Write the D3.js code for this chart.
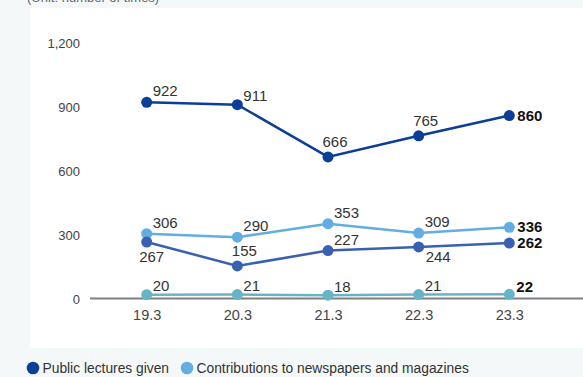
<!DOCTYPE html>
<html><head><meta charset="utf-8">
<script src="https://cdn.jsdelivr.net/npm/d3@7"></script>
<style>
html,body{margin:0;padding:0;background:#f4f8f9;}
svg{display:block;font-family:"Liberation Sans",Arial,Helvetica,sans-serif;}
</style></head>
<body><svg id="c" width="583" height="377"></svg>
<script>
const categories = ["19.3","20.3","21.3","22.3","23.3"];
const yTicks = [0,300,600,900,1200];
const unitLabel = "(Unit: number of times)";
const seriesNames = ["Public lectures given","Contributions to newspapers and magazines","Series 3","Series 4"];
const lecturesValues = [922,911,666,765,860];
const contributionsValues = [306,290,353,309,336];
const series3Values = [267,155,227,244,262];
const series4Values = [20,21,18,21,22];
const legendNames = ["Public lectures given","Contributions to newspapers and magazines"];

const colors = ["#0a3e98","#62ade2","#3a60b2","#68b4c7"];
// label placement codes per series (layout only)
const placements = [
  ["ur","ur3","u","u","r"],
  ["ur","ur","ur","ur","r"],
  ["d","u","ur","dr","r"],
  ["ur3","ur3","ur3","ur3","urb"]
];

const series = [lecturesValues, contributionsValues, series3Values, series4Values]
  .map((v,i)=>({name:seriesNames[i], values:v, color:colors[i], place:placements[i]}));

const svg = d3.select("#c");
const W = 583, H = 377;

// white panel
svg.append("rect").attr("x",30).attr("y",8).attr("width",W-30).attr("height",340).attr("fill","#fff");

// unit label (mostly cropped at top)
svg.append("text").attr("x",27).attr("y",1.5).attr("font-size",13).attr("fill","#666").text(unitLabel);

const x = d3.scalePoint().domain(categories).range([146.7,509.3]);
const y = d3.scaleLinear().domain([0,1200]).range([299,43]);

// y axis labels
const yAxis = d3.axisLeft(y).tickValues(yTicks).tickSize(0).tickPadding(0).tickFormat(d3.format(","));
const yg = svg.append("g").attr("transform","translate(80,0)").call(yAxis);
yg.select(".domain").remove();
yg.selectAll("text").attr("font-size",13).attr("fill","#444").attr("font-family","inherit");

// x axis
const xAxis = d3.axisBottom(x).tickSize(0).tickPadding(11);
const xg = svg.append("g").attr("transform",`translate(0,${y(0)})`).call(xAxis);
xg.select(".domain").remove();
xg.selectAll("text").attr("font-size",14.5).attr("fill","#444").attr("font-family","inherit");
svg.append("line").attr("x1",90).attr("x2",W).attr("y1",y(0)-0.5).attr("y2",y(0)-0.5)
  .attr("stroke","#7f7f7f").attr("stroke-width",2);

const line = d3.line().x((d,i)=>x(categories[i])).y(d=>y(d));

const offs = {
  ur:{anchor:"start",dx:6,dy:-6},
  ur3:{anchor:"start",dx:6,dy:-3.5},
  u:{anchor:"middle",dx:7,dy:-10},
  d:{anchor:"middle",dx:5,dy:20},
  dr:{anchor:"start",dx:7,dy:15},
  r:{anchor:"start",dx:8,dy:5,bold:true},
  urb:{anchor:"start",dx:7,dy:-2.5,bold:true}
};

// draw in order so dark series on top
[3,1,2,0].forEach(si=>{
  const s = series[si];
  const g = svg.append("g");
  g.append("path").datum(s.values).attr("d",line).attr("fill","none")
    .attr("stroke",s.color).attr("stroke-width",2.5);
  g.selectAll("circle").data(s.values).join("circle")
    .attr("cx",(d,i)=>x(categories[i])).attr("cy",d=>y(d)).attr("r",5.5).attr("fill",s.color);
});
series.forEach(s=>{
  svg.append("g").selectAll("text").data(s.values).join("text")
    .attr("x",(d,i)=>x(categories[i])+offs[s.place[i]].dx)
    .attr("y",(d,i)=>y(d)+offs[s.place[i]].dy)
    .attr("text-anchor",(d,i)=>offs[s.place[i]].anchor)
    .attr("font-size",15)
    .attr("font-weight",(d,i)=>offs[s.place[i]].bold?"bold":"normal")
    .attr("fill",(d,i)=>offs[s.place[i]].bold?"#111":"#333")
    .text(d=>d3.format(",")(d));
});

// legend
const lg = svg.append("g").attr("transform","translate(0,368)");
let lx = 33;
legendNames.forEach((n,i)=>{
  lg.append("circle").attr("cx",lx).attr("cy",0).attr("r",6.3).attr("fill",colors[i]);
  const t = lg.append("text").attr("x",lx+9.5).attr("y",5).attr("font-size",13.8).attr("fill","#333").text(n);
  lx += 9.5 + t.node().getComputedTextLength() + 18;
});
</script></body></html>
